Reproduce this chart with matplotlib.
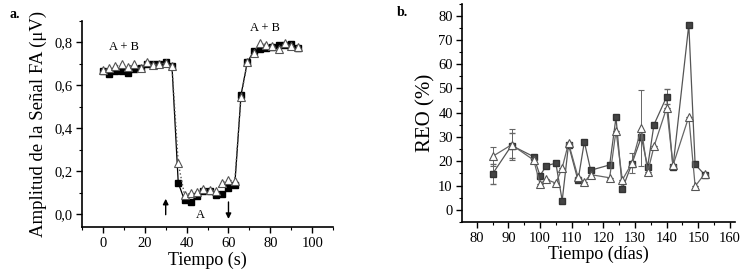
import matplotlib.pyplot as plt
import matplotlib
from matplotlib.ticker import MultipleLocator, FuncFormatter

matplotlib.rc('font', family=['Liberation Serif', 'DejaVu Serif'])

# panel a: amplitud de la señal FA
t_s = [0, 3, 6, 9, 12, 15, 18, 21, 24, 27, 30, 33, 36, 39, 42, 45, 48, 51, 54, 57,
       60, 63, 66, 69, 72, 75, 78, 81, 84, 87, 90, 93]
amp_sq = [0.665, 0.654, 0.665, 0.665, 0.657, 0.677, 0.68, 0.70, 0.70, 0.70, 0.71, 0.69,
          0.146, 0.065, 0.058, 0.085, 0.11, 0.11, 0.088, 0.092, 0.12, 0.135,
          0.556, 0.708, 0.758, 0.769, 0.774, 0.781, 0.789, 0.789, 0.794, 0.774]
amp_tri = [0.67, 0.68, 0.688, 0.70, 0.685, 0.70, 0.68, 0.707, 0.696, 0.70, 0.703, 0.69,
           0.237, 0.089, 0.097, 0.104, 0.117, 0.112, 0.109, 0.146, 0.159, 0.154,
           0.548, 0.707, 0.753, 0.797, 0.789, 0.784, 0.769, 0.797, 0.784, 0.781]

# panel b: REO (%)
dias = [85, 91, 98, 100, 102, 105, 107, 109, 112, 114, 116, 122, 124, 126, 129,
        132, 134, 136, 140, 142, 147, 149, 152]
reo_sq = [14.8, 26.5, 21.9, 14.1, 18.2, 19.2, 3.8, 26.8, 12.1, 28.0, 16.3, 18.5, 38.1,
          8.6, 18.9, 29.9, 17.8, 35.1, 46.6, 17.6, 76.3, 18.7, 14.5]
reo_tri = [22.0, 26.8, 20.5, 10.7, 12.5, 11.0, 17.3, 27.5, 13.5, 11.5, 14.5, 13.2, 32.6,
           12.3, 19.2, 33.7, 15.5, 26.1, 42.0, 18.3, 38.4, 9.7, 14.8]
err_sq = [4.2, 5.0, 0, 0, 0, 0, 0, 0, 0, 0, 0, 0, 0, 0, 0, 0, 0, 0, 3.0, 0, 0, 0, 0]
err_tri = [4.0, 6.3, 0, 0, 0, 0, 0, 0, 0, 0, 0, 0, 0, 0, 4.2, 15.7, 0, 0, 0, 0, 0, 0, 0]

fig = plt.figure(figsize=(7.52, 2.72), dpi=100)

###################
ax1 = fig.add_axes([0.109, 0.165, 0.334, 0.758])
ax1.plot(t_s, amp_sq, '-', color='black', lw=0.9, marker='s', ms=4.8,
         mfc='black', mec='black', zorder=3)
ax1.plot(t_s, amp_tri, ':', color='#555555', lw=1.0, marker='^', ms=5.5,
         mfc='white', mec='#555555', mew=0.8, zorder=4)
ax1.set_xlim(-10, 110)
ax1.set_ylim(-0.06, 0.9)
ax1.xaxis.set_major_locator(MultipleLocator(20))
ax1.xaxis.set_minor_locator(MultipleLocator(10))
ax1.yaxis.set_major_locator(MultipleLocator(0.2))
ax1.yaxis.set_minor_locator(MultipleLocator(0.1))
ax1.yaxis.set_major_formatter(FuncFormatter(lambda v, p: ('%.1f' % v).replace('.', ',')))
ax1.set_xlabel('Tiempo (s)', fontsize=13, labelpad=1)
ax1.set_ylabel('Amplitud de la Señal FA (μV)', fontsize=13.5, labelpad=5)
ax1.text(10, 0.75, 'A + B', fontsize=9, ha='center', va='bottom')
ax1.text(77.5, 0.84, 'A + B', fontsize=9, ha='center', va='bottom')
ax1.text(46.5, -0.005, 'A', fontsize=9, ha='center', va='center')
ax1.annotate('', xy=(30, 0.085), xytext=(30, -0.015),
             arrowprops=dict(arrowstyle='-|>', color='black', lw=1, mutation_scale=8))
ax1.annotate('', xy=(60, -0.035), xytext=(60, 0.07),
             arrowprops=dict(arrowstyle='-|>', color='black', lw=1, mutation_scale=8))
fig.text(0.012, 0.935, 'a.', fontsize=10, fontweight='bold')

###################
ax2 = fig.add_axes([0.615, 0.184, 0.362, 0.803])
ax2.errorbar(dias, reo_sq, yerr=err_sq, fmt='-', color='#555555', lw=0.9,
             marker='s', ms=5, mfc='#444444', mec='#333333', ecolor='#666666',
             elinewidth=0.7, capsize=2, zorder=3)
ax2.errorbar(dias, reo_tri, yerr=err_tri, fmt='-', color='#666666', lw=0.9,
             marker='^', ms=5.5, mfc='white', mec='#555555', mew=0.8,
             ecolor='#666666', elinewidth=0.7, capsize=2, zorder=4)
ax2.set_xlim(75.5, 161.5)
ax2.set_ylim(-5, 85)
ax2.xaxis.set_major_locator(MultipleLocator(10))
ax2.xaxis.set_minor_locator(MultipleLocator(5))
ax2.yaxis.set_major_locator(MultipleLocator(10))
ax2.yaxis.set_minor_locator(MultipleLocator(5))
ax2.set_xlabel('Tiempo (días)', fontsize=13, labelpad=1)
ax2.set_ylabel('REO (%)', fontsize=15, labelpad=2)
fig.text(0.528, 0.94, 'b.', fontsize=10, fontweight='bold')

for ax in (ax1, ax2):
    ax.spines['top'].set_visible(False)
    ax.spines['right'].set_visible(False)
    ax.spines['left'].set_linewidth(1.2)
    ax.spines['bottom'].set_linewidth(1.2)
    ax.tick_params(which='major', direction='out', length=4, width=1, labelsize=10.5, pad=3)
    ax.tick_params(which='minor', direction='out', length=2, width=0.8)

plt.savefig('out.png', dpi=100)
